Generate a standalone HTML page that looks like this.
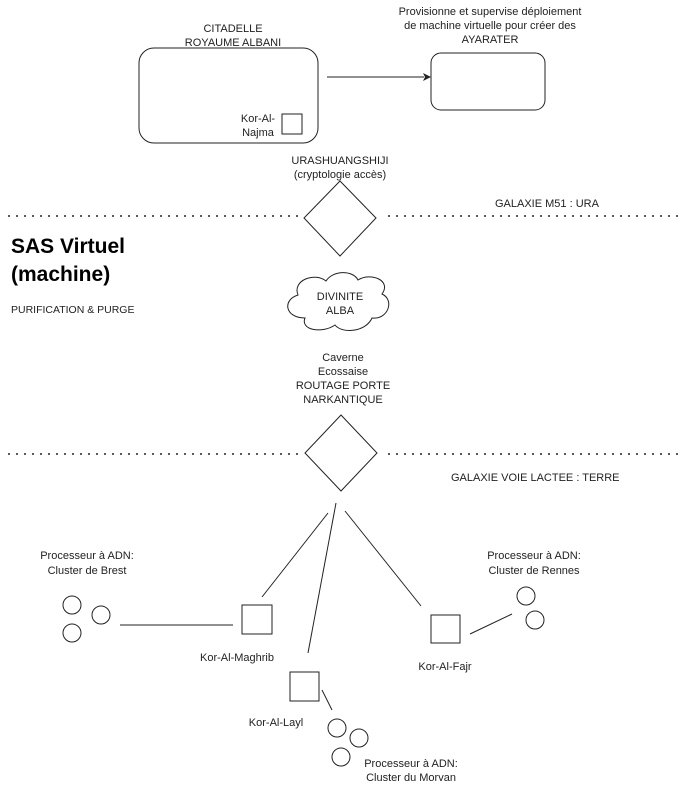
<!DOCTYPE html>
<html><head><meta charset="utf-8"><style>
body{margin:0;background:#fff}
svg text{font-family:"Liberation Sans",sans-serif;fill:#222;font-size:11px}
</style></head><body>
<svg width="700" height="790" viewBox="0 0 700 790" xmlns="http://www.w3.org/2000/svg">
<g fill="none" stroke="#222" stroke-width="1">
<rect x="139" y="48" width="179" height="95" rx="15"/>
<rect x="282" y="114" width="20" height="20"/>
<rect x="431" y="53" width="114" height="57" rx="10"/>
<line x1="327" y1="77" x2="424" y2="77"/>
<line x1="8" y1="216" x2="300" y2="216" stroke-dasharray="2,6" stroke-width="1.5"/>
<line x1="388" y1="216" x2="680" y2="216" stroke-dasharray="2,6" stroke-width="1.5"/>
<line x1="8" y1="454" x2="300" y2="454" stroke-dasharray="2,6" stroke-width="1.5"/>
<line x1="388" y1="454" x2="680" y2="454" stroke-dasharray="2,6" stroke-width="1.5"/>
<polygon points="340,181 376,218 340,256 304,218"/>
<polygon points="341,415 377,453 341,491 305,453"/>
<path d="M305,318 C285,318 282,300 298,295 C292,280 315,272 326,281 C333,270 353,270 358,280 C370,272 392,280 382,294 C395,300 388,320 372,318 C366,332 342,334 335,325 C322,334 300,330 305,318 Z"/>
<line x1="328" y1="513" x2="262" y2="597"/>
<line x1="336" y1="503" x2="308" y2="653"/>
<line x1="345" y1="511" x2="421" y2="606"/>
<rect x="242" y="605" width="30" height="29"/>
<line x1="120" y1="625" x2="233" y2="625"/>
<circle cx="72" cy="605" r="9"/><circle cx="101" cy="615" r="9"/><circle cx="72" cy="633" r="9"/>
<rect x="290" y="672" width="29" height="29"/>
<line x1="322" y1="690" x2="332" y2="710"/>
<circle cx="337" cy="728" r="9"/><circle cx="359" cy="738" r="9"/><circle cx="341" cy="757" r="9"/>
<rect x="431" y="615" width="29" height="28"/>
<line x1="470" y1="634" x2="512" y2="614"/>
<circle cx="526" cy="596" r="9"/><circle cx="535" cy="620" r="9"/>
</g>
<polygon points="431,77 423,73 425,77 423,81" fill="#222"/>
<g text-anchor="middle">
<text x="233" y="32">CITADELLE</text>
<text x="233" y="46">ROYAUME ALBANI</text>
<text x="258" y="122">Kor-Al-</text>
<text x="258" y="136">Najma</text>
<text x="490" y="15">Provisionne et supervise déploiement</text>
<text x="490" y="29">de machine virtuelle pour créer des</text>
<text x="490" y="43">AYARATER</text>
<text x="340" y="164">URASHUANGSHIJI</text>
<text x="340" y="178">(cryptologie accès)</text>
<text x="340" y="300">DIVINITE</text>
<text x="340" y="314">ALBA</text>
<text x="343" y="361">Caverne</text>
<text x="343" y="375">Ecossaise</text>
<text x="343" y="389">ROUTAGE PORTE</text>
<text x="343" y="403">NARKANTIQUE</text>
<text x="87" y="559">Processeur à ADN:</text>
<text x="87" y="574">Cluster de Brest</text>
<text x="237" y="661">Kor-Al-Maghrib</text>
<text x="276" y="726">Kor-Al-Layl</text>
<text x="411" y="767">Processeur à ADN:</text>
<text x="411" y="781">Cluster du Morvan</text>
<text x="445" y="670">Kor-Al-Fajr</text>
<text x="534" y="559">Processeur à ADN:</text>
<text x="534" y="574">Cluster de Rennes</text>
</g>
<text x="495" y="207">GALAXIE M51 : URA</text>
<text x="451" y="481">GALAXIE VOIE LACTEE : TERRE</text>
<text x="11" y="253" style="font-size:21px;font-weight:bold;fill:#000">SAS Virtuel</text>
<text x="11" y="281" style="font-size:21px;font-weight:bold;fill:#000">(machine)</text>
<text x="11" y="313" style="font-size:10.5px">PURIFICATION &amp; PURGE</text>
</svg>
</body></html>
